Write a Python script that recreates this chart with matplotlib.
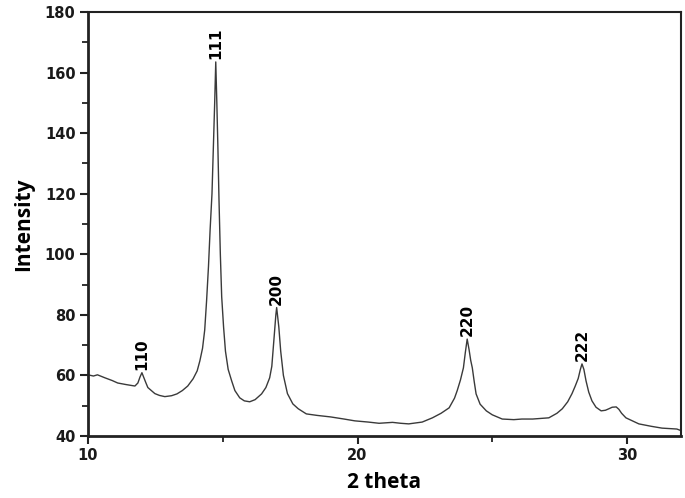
import matplotlib.pyplot as plt
from matplotlib.ticker import MultipleLocator

# XRD pattern
two_theta = [10.0, 10.2, 10.35, 10.63, 10.9, 11.1, 11.4, 11.6, 11.74, 11.85, 11.93,
             12.0, 12.07, 12.15, 12.22, 12.35, 12.48, 12.65, 12.85, 13.1, 13.3,
             13.5, 13.7, 13.9, 14.05, 14.15, 14.25, 14.33, 14.4, 14.47, 14.53,
             14.6, 14.65, 14.7, 14.74, 14.78, 14.82, 14.86, 14.91, 14.96, 15.03,
             15.1, 15.2, 15.33, 15.45, 15.63, 15.8, 16.0, 16.2, 16.44, 16.6,
             16.74, 16.82, 16.9, 16.97, 17.0, 17.08, 17.15, 17.25, 17.4, 17.6,
             17.8, 18.1, 18.5, 19.0, 19.5, 19.9, 20.4, 20.8, 21.3, 21.6, 21.9,
             22.4, 22.78, 23.1, 23.4, 23.6, 23.7, 23.82, 23.93, 24.0, 24.07,
             24.14, 24.2, 24.26, 24.33, 24.4, 24.55, 24.78, 25.0, 25.37, 25.8,
             26.1, 26.5, 27.1, 27.4, 27.6, 27.8, 27.96, 28.08, 28.19, 28.27,
             28.33, 28.4, 28.48, 28.58, 28.7, 28.85, 29.04, 29.2, 29.33, 29.45,
             29.6, 29.7, 29.8, 29.96, 30.2, 30.44, 30.9, 31.3, 31.85, 32.0]
intensity = [60.2, 59.8, 60.2, 59.2, 58.3, 57.5, 57.0, 56.7, 56.5, 57.5, 59.5,
             60.9, 59.3, 57.5, 56.0, 55.0, 54.0, 53.4, 53.0, 53.3, 53.9,
             55.0, 56.5, 58.9, 61.5, 64.8, 69.0, 75.0, 84.7, 96.0, 108.0,
             120.0, 135.0, 150.0, 163.5, 150.0, 135.0, 118.0, 100.0, 86.0, 76.0,
             68.0, 62.0, 58.2, 55.0, 52.6, 51.6, 51.3, 52.0, 53.9, 56.0,
             59.2, 63.0, 72.0, 80.0, 82.4, 76.0, 68.0, 60.0, 54.0, 50.6,
             49.0, 47.3, 46.8, 46.3, 45.6, 45.0, 44.6, 44.2, 44.5, 44.2, 44.0,
             44.6, 46.0, 47.5, 49.3, 52.5, 55.0, 58.5, 62.5, 67.5, 72.0,
             68.5, 65.0, 62.5, 58.0, 53.9, 50.5, 48.3, 47.0, 45.6, 45.4,
             45.6, 45.6, 46.0, 47.5, 49.0, 51.3, 54.0, 56.5, 59.0, 62.0,
             63.8, 62.0, 58.2, 54.5, 51.6, 49.5, 48.3, 48.5, 49.0, 49.5,
             49.6, 48.8, 47.5, 46.0, 45.0, 44.0, 43.2, 42.6, 42.3, 41.8]

peak_pos = [12.0, 14.74, 17.0, 24.07, 28.33]
peak_int = [60.9, 163.5, 82.4, 72.0, 63.8]
peak_hkl = ['110', '111', '200', '220', '222']

fig = plt.figure(figsize=(6.85, 4.98), dpi=100)
ax = fig.add_axes([0.1285, 0.1245, 0.8655, 0.8515])

ax.plot(two_theta, intensity, color='#3a3a3a', lw=1.0)

for x, y, t in zip(peak_pos, peak_int, peak_hkl):
    ax.annotate(t, (x, y), xytext=(0, 2), textcoords='offset points',
                rotation=90, ha='center', va='bottom',
                fontsize=11, fontweight='bold', family='DejaVu Sans')

ax.set_xlim(10, 32)
ax.set_ylim(40, 180)
ax.xaxis.set_major_locator(MultipleLocator(10))
ax.xaxis.set_minor_locator(MultipleLocator(5))
ax.yaxis.set_major_locator(MultipleLocator(20))
ax.yaxis.set_minor_locator(MultipleLocator(10))
ax.tick_params(which='major', direction='out', length=6, width=1.5,
               color='#222222', labelsize=10.5, pad=3)
ax.tick_params(which='minor', direction='out', length=4, width=1.3,
               color='#222222')
for lab in ax.get_xticklabels() + ax.get_yticklabels():
    lab.set_fontweight('bold')
    lab.set_color('#1a1a1a')

ax.spines['left'].set_linewidth(2.0)
ax.spines['bottom'].set_linewidth(2.0)
ax.spines['top'].set_linewidth(1.5)
ax.spines['right'].set_linewidth(1.5)
for s in ax.spines.values():
    s.set_color('#222222')

ax.set_xlabel('2 theta', fontsize=15, fontweight='bold', family='Open Sans', labelpad=6)
ax.set_ylabel('Intensity', fontsize=15, fontweight='bold', family='Open Sans', labelpad=8)

fig.savefig('out.png', dpi=100)
